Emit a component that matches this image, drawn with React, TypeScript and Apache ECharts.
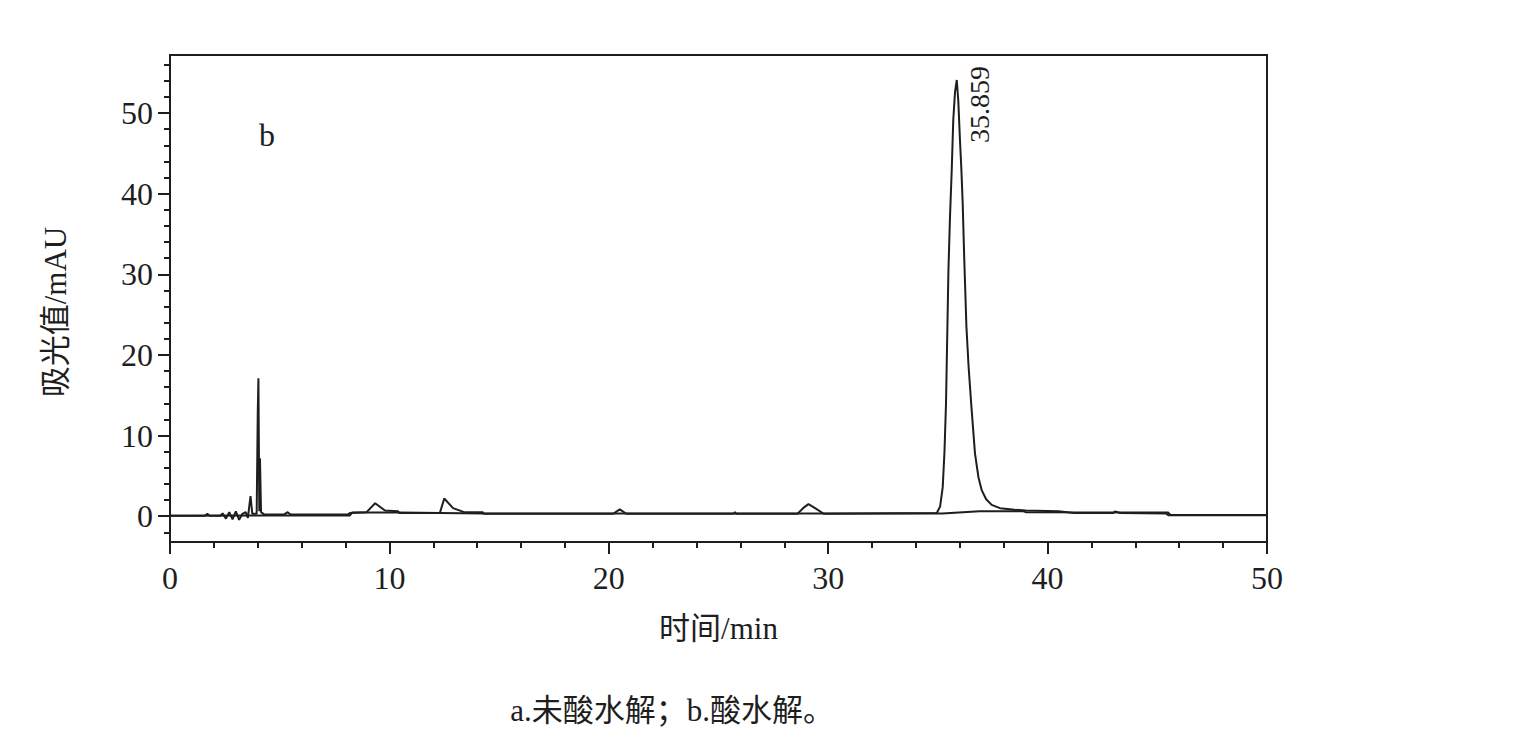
import React, { useEffect, useRef } from "react";
import * as echarts from "echarts";

// Chromatogram b (acid hydrolysis): [time/min, absorbance/mAU]
const traceB: [number, number][] = [
  [0, 0.05], [1.6, 0.05], [1.7, 0.3], [1.8, 0.05], [2.3, 0.05], [2.4, 0.35], [2.55, -0.3],
  [2.7, 0.5], [2.85, -0.4], [3.0, 0.6], [3.15, -0.45], [3.3, 0.3], [3.45, 0.5], [3.55, -0.2],
  [3.67, 2.5], [3.75, 0.3], [3.95, 0.3], [4.0, 12.8], [4.03, 17.1], [4.07, 0.6], [4.1, 7.2],
  [4.15, 0.5], [4.3, 0.2], [5.2, 0.2], [5.36, 0.5], [5.5, 0.2], [8.1, 0.2], [8.2, 0.4],
  [8.96, 0.5], [9.35, 1.6], [9.8, 0.7], [10.4, 0.6], [10.45, 0.4], [12.3, 0.4], [12.5, 2.2],
  [12.9, 1.0], [13.4, 0.5], [14.25, 0.5], [14.3, 0.3], [20.2, 0.3], [20.5, 0.85], [20.8, 0.3],
  [25.7, 0.3], [25.75, 0.5], [25.8, 0.3], [28.6, 0.3], [28.9, 1.1], [29.1, 1.5], [29.4, 1.0],
  [29.8, 0.3], [34.95, 0.4], [35.1, 1.2], [35.22, 3.6], [35.3, 8.0], [35.37, 14.0],
  [35.48, 30.5], [35.55, 37.0], [35.63, 42.9], [35.7, 49.1], [35.78, 52.6], [35.86, 54.1],
  [35.93, 51.5], [36.0, 47.0], [36.07, 43.0], [36.13, 38.8], [36.2, 32.0], [36.3, 23.5],
  [36.4, 18.5], [36.53, 13.5], [36.69, 7.8], [36.85, 4.8], [37.0, 3.2], [37.2, 2.1],
  [37.45, 1.4], [37.83, 1.0], [38.5, 0.8], [39.0, 0.7], [40.5, 0.6], [41.2, 0.4], [43.0, 0.4],
  [43.07, 0.6], [43.3, 0.4], [45.4, 0.35], [45.5, 0.12], [50, 0.12],
];

// Chromatogram a (no acid hydrolysis) / baseline trace
const traceA: [number, number][] = [
  [0, 0.05], [8.2, 0.1], [8.3, 0.45], [10.45, 0.45], [12.3, 0.4], [14.3, 0.35], [35.2, 0.35],
  [36.9, 0.6], [38.9, 0.6], [39.0, 0.5], [45.5, 0.45], [45.6, 0.15], [50, 0.15],
];

const peakTime = 35.859;
const peakValue = 54.1;
const peakLabel = "35.859";

const xMajorTicks = [0, 10, 20, 30, 40, 50];
const xMinorTicks = [2, 4, 6, 8, 12, 14, 16, 18, 22, 24, 26, 28, 32, 34, 36, 38, 42, 44, 46, 48];
const yMajorTicks = [0, 10, 20, 30, 40, 50];
const yMinorTicks = [-2, 2, 4, 6, 8, 12, 14, 16, 18, 22, 24, 26, 28, 32, 34, 36, 38, 42, 44, 46, 48, 52, 54, 56];

const xRange = [0, 50];
const yRange = [-3.2, 57.2];

const panelLabel = "b";
const yTitle = "吸光值/mAU";
const xTitle = "时间/min";
const caption = "a.未酸水解；b.酸水解。";

const FONT = "Liberation Serif, Noto Sans CJK SC, serif";
const SERIF = "Liberation Serif";
const INK = "#1e1e1e";

export default function App() {
  const ref = useRef<HTMLDivElement>(null);

  useEffect(() => {
    if (!ref.current) return;
    const chart = echarts.init(ref.current, null, { renderer: "svg" });

    const mkX = (ticks: number[], len: number, main: boolean) => ({
      type: "value" as const,
      min: xRange[0],
      max: xRange[1],
      position: "bottom" as const,
      gridIndex: 0,
      axisLine: { show: main, onZero: false, lineStyle: { color: INK, width: 2 } },
      axisTick: { show: true, length: len, customValues: ticks, lineStyle: { color: INK, width: 2 } },
      axisLabel: {
        show: main,
        customValues: main ? ticks : undefined,
        margin: 20,
        fontSize: 32,
        fontFamily: SERIF,
        color: INK,
      },
      splitLine: { show: false },
    });
    const mkY = (ticks: number[], len: number, main: boolean) => ({
      type: "value" as const,
      min: yRange[0],
      max: yRange[1],
      position: "left" as const,
      gridIndex: 0,
      axisLine: { show: main, onZero: false, lineStyle: { color: INK, width: 2 } },
      axisTick: { show: true, length: len, customValues: ticks, lineStyle: { color: INK, width: 2 } },
      axisLabel: {
        show: main,
        customValues: main ? ticks : undefined,
        margin: 17,
        fontSize: 32,
        fontFamily: SERIF,
        color: INK,
      },
      splitLine: { show: false },
    });

    chart.setOption({
      animation: false,
      grid: {
        left: 170,
        top: 55,
        right: 250,
        bottom: 205,
        show: true,
        borderColor: INK,
        borderWidth: 2,
        backgroundColor: "transparent",
      },
      xAxis: [mkX(xMajorTicks, 12, true), mkX(xMinorTicks, 6, false)],
      yAxis: [mkY(yMajorTicks, 12, true), mkY(yMinorTicks, 6, false)],
      series: [
        {
          type: "line",
          data: traceA,
          xAxisIndex: 0,
          yAxisIndex: 0,
          showSymbol: false,
          symbol: "none",
          lineStyle: { color: INK, width: 2 },
        },
        {
          type: "line",
          data: traceB,
          xAxisIndex: 0,
          yAxisIndex: 0,
          showSymbol: false,
          symbol: "none",
          lineStyle: { color: INK, width: 2 },
        },
      ],
    });

    const peakPx = chart.convertToPixel({ gridIndex: 0 }, [peakTime, peakValue]) as number[];
    const leftTop = chart.convertToPixel({ gridIndex: 0 }, [xRange[0], yRange[1]]) as number[];
    const rightBottom = chart.convertToPixel({ gridIndex: 0 }, [xRange[1], yRange[0]]) as number[];
    const midX = (leftTop[0] + rightBottom[0]) / 2;

    chart.setOption({
      graphic: [
        {
          type: "text",
          x: peakPx[0] + 23,
          y: peakPx[1] + 63,
          rotation: Math.PI / 2,
          style: {
            text: peakLabel,
            fontSize: 28,
            fontFamily: SERIF,
            fill: INK,
            textAlign: "left",
            textVerticalAlign: "middle",
          },
        },
        {
          type: "text",
          x: leftTop[0] + 97,
          y: leftTop[1] + 80,
          style: {
            text: panelLabel,
            fontSize: 32,
            fontFamily: SERIF,
            fill: INK,
            textAlign: "center",
            textVerticalAlign: "middle",
          },
        },
        {
          type: "text",
          x: leftTop[0] - 115,
          y: 312,
          rotation: Math.PI / 2,
          style: {
            text: yTitle,
            fontSize: 31,
            fontFamily: FONT,
            fill: INK,
            textAlign: "center",
            textVerticalAlign: "middle",
          },
        },
        {
          type: "text",
          x: midX,
          y: rightBottom[1] + 86,
          style: {
            text: xTitle,
            fontSize: 31,
            fontFamily: FONT,
            fill: INK,
            textAlign: "center",
            textVerticalAlign: "middle",
          },
        },
        {
          type: "text",
          x: 672,
          y: 710,
          style: {
            text: caption,
            fontSize: 31,
            fontFamily: FONT,
            fill: INK,
            textAlign: "center",
            textVerticalAlign: "middle",
          },
        },
      ],
    });

    return () => chart.dispose();
  }, []);

  return (
    <div
      ref={ref}
      style={{ position: "fixed", left: 0, top: 0, width: 1517, height: 747, background: "#fff" }}
    />
  );
}
